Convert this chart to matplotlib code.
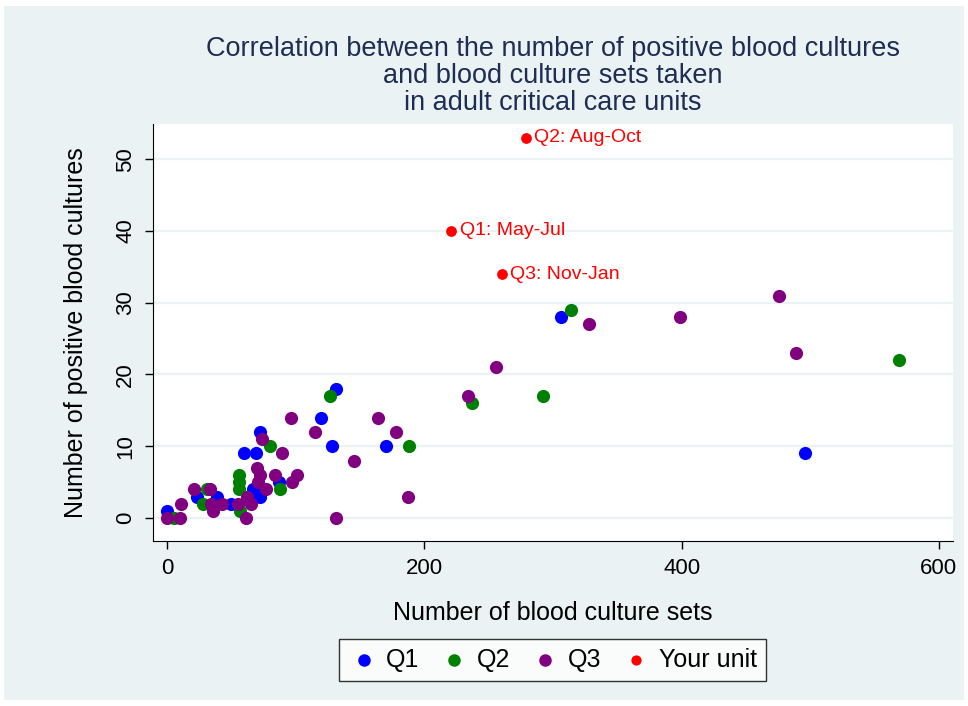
import matplotlib
matplotlib.use("Agg")
import matplotlib.pyplot as plt
from matplotlib.patches import Rectangle

# donnees
q1_x = [0, 23, 39, 50, 60, 69, 72, 67, 72, 87, 120, 128, 131, 170, 306, 496]
q1_y = [1, 3, 3, 2, 9, 9, 12, 4, 3, 5, 14, 10, 18, 10, 28, 9]

q2_x = [5, 31, 28, 56, 56, 56, 57, 80, 88, 127, 188, 237, 292, 314, 569]
q2_y = [0, 4, 2, 6, 5, 4, 1, 10, 4, 17, 10, 16, 17, 29, 22]

q3_x = [0, 10, 11, 21, 33, 34, 36, 43, 55, 62, 65, 61, 70, 72, 71, 77, 74,
        89, 84, 97, 101, 96, 115, 131, 145, 164, 178, 187, 234, 256, 328,
        399, 476, 489]
q3_y = [0, 0, 2, 4, 4, 2, 1, 2, 2, 3, 2, 0, 7, 6, 5, 4, 11,
        9, 6, 5, 6, 14, 12, 0, 8, 14, 12, 3, 17, 21, 27,
        28, 31, 23]

unit_x = [221, 279, 260]
unit_y = [40, 53, 34]
unit_labels = ["Q1: May-Jul", "Q2: Aug-Oct", "Q3: Nov-Jan"]

x_ticks = [0, 200, 400, 600]
y_ticks = [0, 10, 20, 30, 40, 50]

BG = "#EAF2F3"
TITLE_COL = "#1E2D53"

plt.rcParams['font.family'] = ['Liberation Sans', 'DejaVu Sans']

fig = plt.figure(figsize=(9.68, 7.06), dpi=100, facecolor="white")
fig.patches.append(Rectangle((4 / 968, 6 / 706), 960 / 968, 694 / 706,
                             transform=fig.transFigure, facecolor=BG,
                             edgecolor="none", zorder=-10))

ax = fig.add_axes([153 / 968, 1 - 541 / 706, 800 / 968, 417 / 706])
ax.set_facecolor("white")

ax.scatter(q1_x, q1_y, s=90, color="#0000FF", linewidths=0, label="Q1", zorder=3)
ax.scatter(q2_x, q2_y, s=90, color="#008000", linewidths=0, label="Q2", zorder=4)
ax.scatter(q3_x, q3_y, s=90, color="#800080", linewidths=0, label="Q3", zorder=5)
ax.scatter(unit_x, unit_y, s=60, color="#FF0000", linewidths=0, label="Your unit", zorder=6)

for x, y, lab in zip(unit_x, unit_y, unit_labels):
    ax.annotate(lab, (x, y), xytext=(6, 0), textcoords="offset points",
                va="center", ha="left", color="#FF0000", fontsize=14)

ax.set_xlim(-11, 611)
ax.set_ylim(-3.2, 54.9)
ax.set_xticks(x_ticks)
ax.set_yticks(y_ticks)
ax.tick_params(axis="both", labelsize=16, length=6, width=1, direction="out", pad=6)
plt.setp(ax.get_yticklabels(), rotation=90, va="center")

ax.grid(axis="y", color=BG, linewidth=1.6)
ax.set_axisbelow(True)
for side in ["top", "right"]:
    ax.spines[side].set_visible(False)

ax.set_xlabel("Number of blood culture sets", fontsize=18, labelpad=16)
ax.set_ylabel("Number of positive blood cultures", fontsize=18, labelpad=20)

fig.text(0.571, 1 - 76 / 706,
         "Correlation between the number of positive blood cultures\n"
         "and blood culture sets taken\n"
         "in adult critical care units",
         ha="center", va="center", fontsize=19.5, color=TITLE_COL, linespacing=1.07)

leg = fig.legend(loc="center", bbox_to_anchor=(552 / 968, 1 - 660 / 706), ncol=4,
                 fontsize=18, frameon=True, fancybox=False, edgecolor="black",
                 handletextpad=0.25, columnspacing=0.75, markerscale=0.95,
                 borderpad=0.35, handlelength=1.3)
leg.get_frame().set_linewidth(1)

fig.savefig("out.png", dpi=100, facecolor=fig.get_facecolor())
